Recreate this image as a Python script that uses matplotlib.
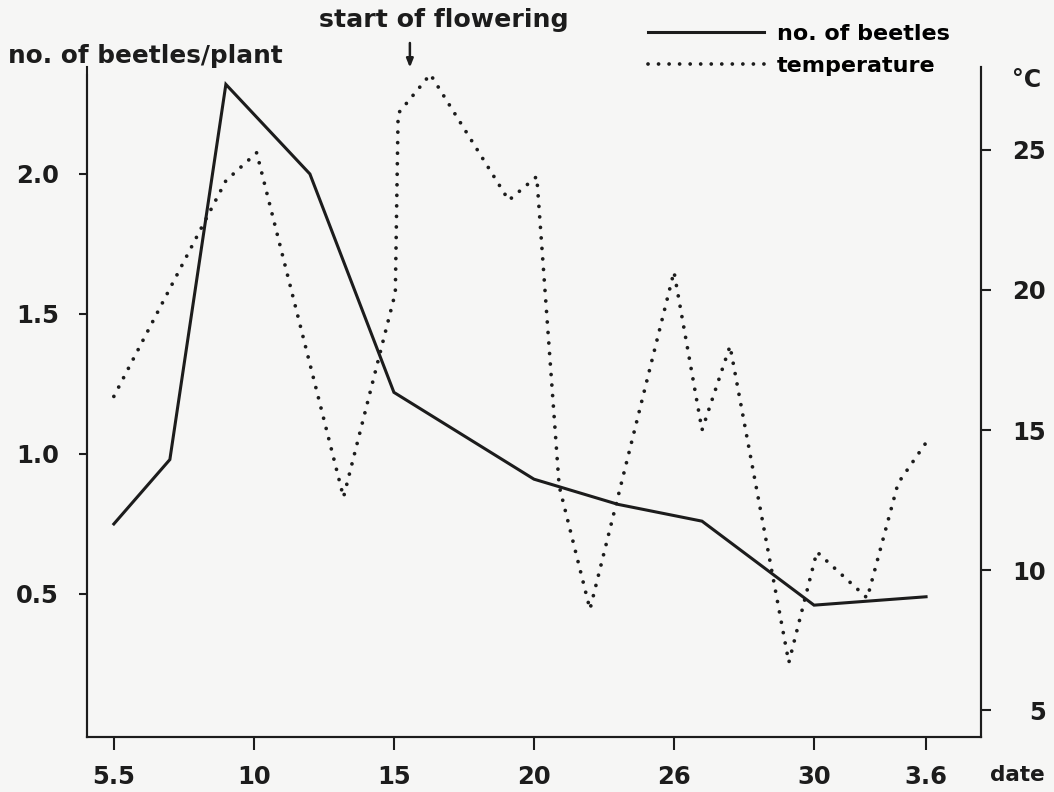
import matplotlib
matplotlib.use("Agg")
import matplotlib.pyplot as plt

# days counted from 1 May (34 = 3 June)
beetle_days = [5, 7, 9, 12, 15, 20, 23, 26, 30, 34]
beetles = [0.75, 0.98, 2.32, 2.0, 1.22, 0.91, 0.82, 0.76, 0.46, 0.49]

temp_days = [5, 9, 10.1, 13.2, 15.05, 15.15, 16.3, 19.1, 20.1, 20.9, 22,
             25, 26, 27, 29.1, 30.1, 31.9, 33, 34]
temps = [16.2, 23.9, 24.9, 12.6, 19.9, 26.3, 27.7, 23.2, 24.05, 13.0, 8.6,
         20.65, 15.0, 18.0, 6.7, 10.65, 9.0, 13.1, 14.55]

x_ticks = [5, 10, 15, 20, 25, 30, 34]
x_labels = ["5.5", "10", "15", "20", "26", "30", "3.6"]
beetle_ticks = [0.5, 1.0, 1.5, 2.0]
temp_ticks = [5, 10, 15, 20, 25]
flowering_day = 15.57

ink = "#1c1c1c"
bg = "#f6f6f5"
plt.rcParams["font.family"] = ["DejaVu Sans"]
plt.rcParams["font.weight"] = "bold"

fig = plt.figure(figsize=(10.54, 7.92), dpi=100, facecolor=bg)
ax = fig.add_axes([0.0825, 0.0694, 0.8482, 0.8460])
ax.set_facecolor(bg)
ax2 = ax.twinx()

l1, = ax.plot(beetle_days, beetles, color=ink, lw=2.2, solid_joinstyle="miter",
              label="no. of beetles")
l2, = ax2.plot(temp_days, temps, color=ink, lw=2.7, linestyle=(0, (0.01, 2.8)),
               dash_capstyle="round", label="temperature")

ax.set_xlim(4.04, 35.96)
ax.set_ylim(-0.011, 2.382)
ax2.set_ylim(4.04, 27.96)

for a in (ax, ax2):
    a.spines["top"].set_visible(False)
    for s in a.spines.values():
        s.set_linewidth(1.5)
        s.set_color(ink)
ax.spines["left"].set_bounds(-0.011, 2.354)

ax.set_xticks(x_ticks)
ax.set_xticklabels(x_labels)
ax.set_yticks(beetle_ticks)
ax.set_yticklabels([f"{v:.1f}" for v in beetle_ticks])
ax2.set_yticks(temp_ticks)

ax.tick_params(axis="x", direction="out", length=9, width=1.5, pad=11,
               labelsize=17.5, colors=ink)
ax.tick_params(axis="y", direction="out", length=6, width=1.5, pad=14,
               labelsize=17.5, colors=ink)
ax2.tick_params(axis="y", direction="out", length=7, width=1.5, pad=40,
                labelsize=17.5, colors=ink)
for t in ax2.get_yticklabels():
    t.set_horizontalalignment("right")

fig.text(8 / 1054, 1 - 56 / 792, "no. of beetles/plant", fontsize=17.8,
         ha="left", va="center", color=ink)
fig.text(1012 / 1054, 1 - 80 / 792, "°C", fontsize=17, ha="left",
         va="center", color=ink)
fig.text(990 / 1054, 1 - 775 / 792, "date", fontsize=15.5, ha="left",
         va="center", color=ink)
fig.text(444 / 1054, 1 - 20 / 792, "start of flowering", fontsize=18.2,
         ha="center", va="center", color=ink)

ax.annotate("", xy=(flowering_day, 0.995), xytext=(flowering_day, 1.04),
            xycoords=("data", "axes fraction"),
            textcoords=("data", "axes fraction"),
            arrowprops=dict(arrowstyle="-|>,head_length=0.5,head_width=0.2",
                            color=ink, lw=1.8), annotation_clip=False)

fig.legend(handles=[l1, l2], loc="upper left",
           bbox_to_anchor=(648 / 1054, 1 - 24 / 792), frameon=False,
           fontsize=16, handlelength=5.2, handletextpad=0.6,
           labelspacing=0.55, borderpad=0, borderaxespad=0)

fig.savefig("out.png", dpi=100, facecolor=bg)
